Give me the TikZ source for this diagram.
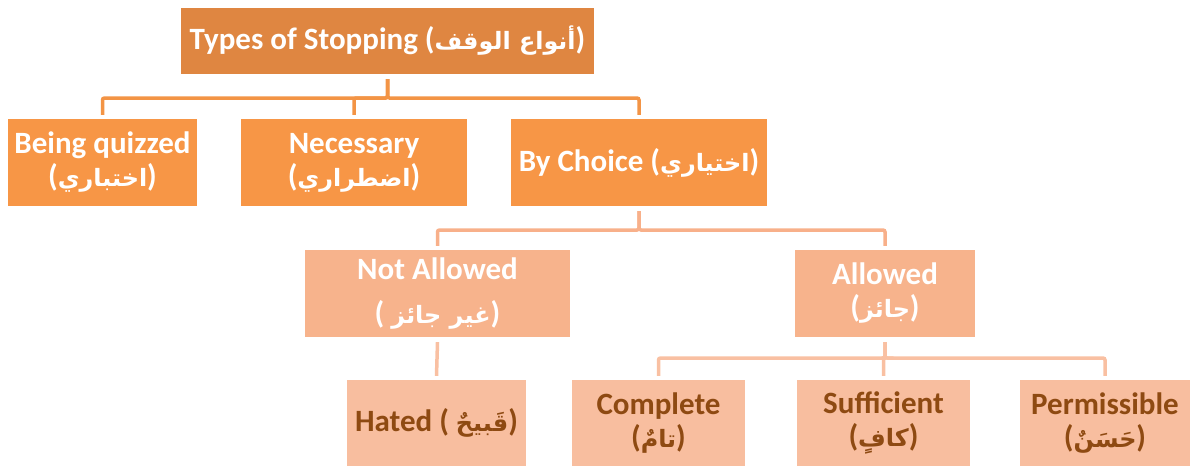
\documentclass[tikz,border=0pt]{standalone}
\usepackage{fontspec}
\setmainfont{Carlito}
\newfontfamily\ar[Script=Arabic,Scale=0.77]{DejaVu Sans}
\TeXXeTstate=1

\definecolor{topc}{HTML}{DF8641}
\definecolor{midc}{HTML}{F79646}
\definecolor{lowc}{HTML}{F7B38C}
\definecolor{leafc}{HTML}{F8BE9F}
\definecolor{linkA}{HTML}{F39445}
\definecolor{linkB}{HTML}{F8B08A}
\definecolor{linkC}{HTML}{F9C0A2}
\definecolor{leaftext}{HTML}{8E4A12}

\tikzset{
  box/.style={rectangle, inner sep=0pt, align=center,
    font=\bfseries\fontsize{31}{33}\selectfont},
  rootbox/.style={box, fill=topc, text=white},
  midbox/.style={box, fill=midc, text=white},
  lowbox/.style={box, fill=lowc, text=white},
  leafbox/.style={box, fill=leafc, text=leaftext},
  link/.style={line width=3.5pt, rounded corners=2pt},
}

\begin{document}
\begin{tikzpicture}[x=1pt, y=-1pt]
\useasboundingbox (0,0) rectangle (1194,466);

% root
\node[rootbox, minimum width=413pt, minimum height=66pt] (root) at (387.5,41)
  {Types of Stopping ({\ar\beginR أنواع الوقف\endR})};

% second level
\node[midbox, minimum width=189pt, minimum height=87pt] (quiz) at (102.5,162.5)
  {Being quizzed\\({\ar\beginR اختباري\endR})};
\node[midbox, minimum width=226pt, minimum height=87pt] (nec) at (354,162.5)
  {Necessary\\({\ar\beginR اضطراري\endR})};
\node[midbox, minimum width=256pt, minimum height=87pt] (choice) at (639,162.5)
  {By Choice ({\ar\beginR اختياري\endR})};

% third level
\node[lowbox, minimum width=265pt, minimum height=87pt] (notok) at (437.5,293.5)
  {Not Allowed\\[11pt]( {\ar\beginR غير جائز\endR})};
\node[lowbox, minimum width=180pt, minimum height=87pt] (ok) at (885,293.5)
  {Allowed\\({\ar\beginR جائز\endR})};

% fourth level
\node[leafbox, minimum width=179pt, minimum height=86pt] (hated) at (436.5,423)
  {Hated ( {\ar\beginR قَبيحٌ\endR})};
\node[leafbox, minimum width=173pt, minimum height=86pt] (complete) at (658.5,423)
  {Complete\\({\ar\beginR تامٌ\endR})};
\node[leafbox, minimum width=173pt, minimum height=86pt] (suff) at (883.5,423)
  {Sufficient\\({\ar\beginR كافٍ\endR})};
\node[leafbox, minimum width=170pt, minimum height=86pt] (perm) at (1105,423)
  {Permissible\\({\ar\beginR حَسَنٌ\endR})};

% bus lines
\coordinate (busA) at (0,98);
\coordinate (busB) at (0,230);
\coordinate (busC) at (0,358);

\foreach \c in {quiz,nec,choice}
  \draw[link, linkA] ([yshift=-5pt]root.south) -- (root.south |- busA)
    -| ([yshift=4pt]\c.north);
\foreach \c in {notok,ok}
  \draw[link, linkB] ([yshift=-5pt]choice.south) -- (choice.south |- busB)
    -| ([yshift=4pt]\c.north);
\draw[link, linkC] ([yshift=-5pt]notok.south) -- ([yshift=4pt]hated.north);
\foreach \c in {complete,suff,perm}
  \draw[link, linkC] ([yshift=-5pt]ok.south) -- (ok.south |- busC)
    -| ([yshift=4pt]\c.north);
\end{tikzpicture}
\end{document}
